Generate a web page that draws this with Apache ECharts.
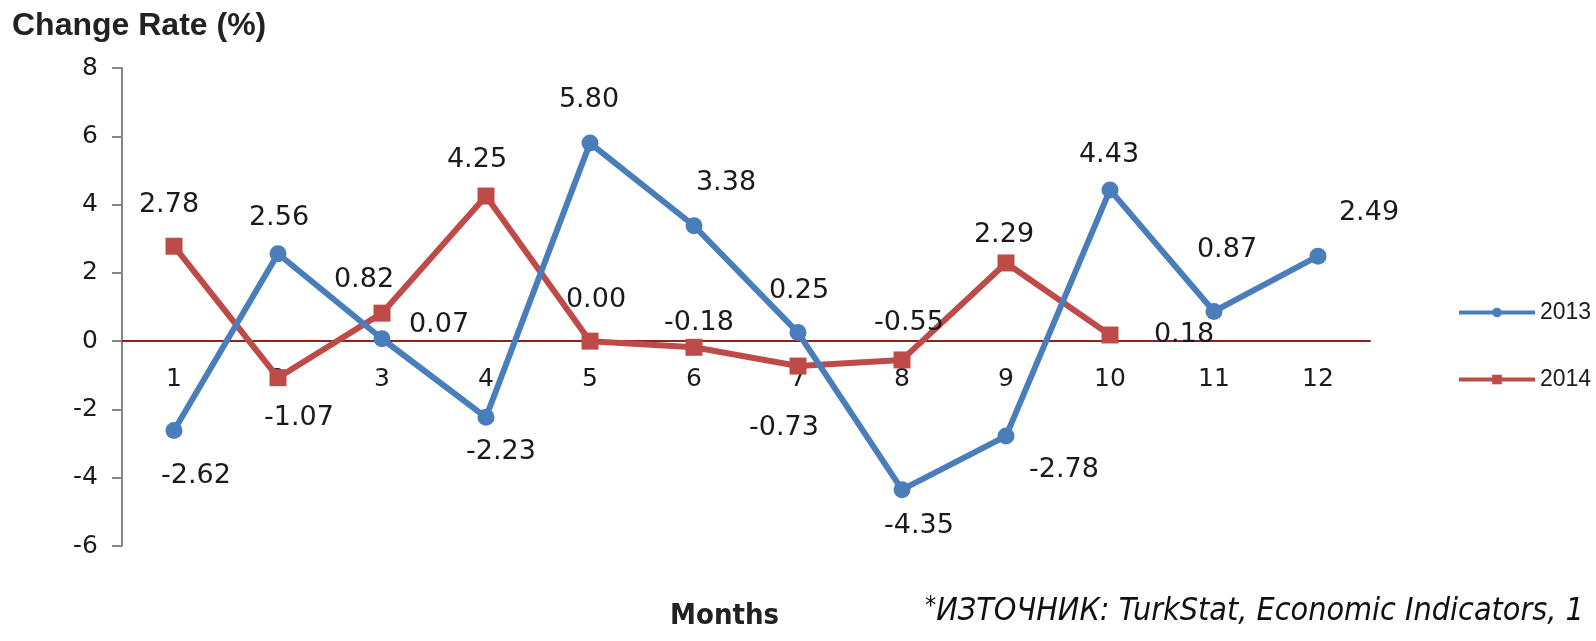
<!DOCTYPE html>
<html><head><meta charset="utf-8">
<script src="https://cdn.jsdelivr.net/npm/echarts@6/dist/echarts.min.js"></script>
<style>html,body{margin:0;padding:0;background:#fff}#c{width:1596px;height:641px}</style>
</head><body><div id="c"></div>
<script>
var months = ['1','2','3','4','5','6','7','8','9','10','11','12'];
var rate2013 = [-2.62, 2.56, 0.07, -2.23, 5.80, 3.38, 0.25, -4.35, -2.78, 4.43, 0.87, 2.49];
var rate2014 = [2.78, -1.07, 0.82, 4.25, 0.00, -0.18, -0.73, -0.55, 2.29, 0.18];
var yTicks = [-6, -4, -2, 0, 2, 4, 6, 8];

// label placement (style only)
var off2013 = [[22,45],[1,-36],[57,-14],[15,35],[-1,-43],[32,-43],[1,-42],[17,36],[58,34],[-1,-35],[13,-61],[51,-43]];
var off2014 = [[-5,-41],[21,40],[-18,-33],[-9,-36],[6,-41],[5,-24],[-14,62],[7,-37],[-2,-28],[74,0]];

function build(vals, offs){
  return vals.map(function(v,i){
    return {value: v, label: {offset: offs[i]}};
  });
}
var FONT = 'DejaVu Sans';
var chart = echarts.init(document.getElementById('c'));
var lbl = {show:true, position:'inside', fontFamily:FONT, fontSize:27, color:'#1a1a1a',
  formatter:function(p){return p.value.toFixed(2);}};
chart.setOption({
  animation:false,
  grid:{left:122, right:226, top:68, bottom:95},
  xAxis:{type:'category', data:months, boundaryGap:true,
    axisLine:{onZero:true, lineStyle:{color:'#8a2222', width:2}},
    axisTick:{show:false},
    axisLabel:{margin:-179, fontFamily:FONT, fontSize:25, color:'#1a1a1a'}},
  yAxis:{type:'value', min:-6, max:8, interval:2,
    axisLine:{show:true, lineStyle:{color:'#868686', width:2}},
    axisTick:{show:true, length:10, lineStyle:{color:'#868686', width:2}},
    splitLine:{show:false},
    axisLabel:{margin:24, fontFamily:FONT, fontSize:25, color:'#1a1a1a',
      formatter:function(v){return yTicks.indexOf(v)>=0 ? String(v) : '';}}},
  legend:{orient:'vertical', left:1452, top:296, itemWidth:76, itemHeight:12, itemGap:44,
    lineStyle:{width:4},
    textStyle:{fontFamily:'Liberation Sans', fontSize:23, color:'#1a1a1a'},
    data:['2013','2014']},
  series:[
    {name:'2013', type:'line', data:build(rate2013, off2013), symbol:'circle', symbolSize:17,
      lineStyle:{color:'#4a7ebb', width:6}, itemStyle:{color:'#4a7ebb'}, label:lbl, z:3},
    {name:'2014', type:'line', data:build(rate2014, off2014), symbol:'rect', symbolSize:17,
      lineStyle:{color:'#be4b48', width:6}, itemStyle:{color:'#be4b48'}, label:lbl, z:2}
  ],
  graphic:[
    {type:'text', left:12, top:10, style:{text:'Change Rate (%)', font:'bold 32px "Liberation Sans"', fill:'#222'}},
    {type:'text', left:670, top:602, style:{text:'Months', font:'bold 29px "DejaVu Sans Condensed", "Liberation Sans"', fill:'#222'}},
    {type:'text', left:925, top:594, style:{
      text:'{s|*}{t|ИЗТОЧНИК: TurkStat, Economic Indicators, 1}',
      rich:{s:{font:'italic 25px "DejaVu Sans Condensed", "Liberation Sans"', fill:'#111', verticalAlign:'top', padding:[0,0,10,0]},
            t:{font:'italic 32px "DejaVu Sans Condensed", "Liberation Sans"', fill:'#111'}}}}
  ]
});
</script></body></html>
